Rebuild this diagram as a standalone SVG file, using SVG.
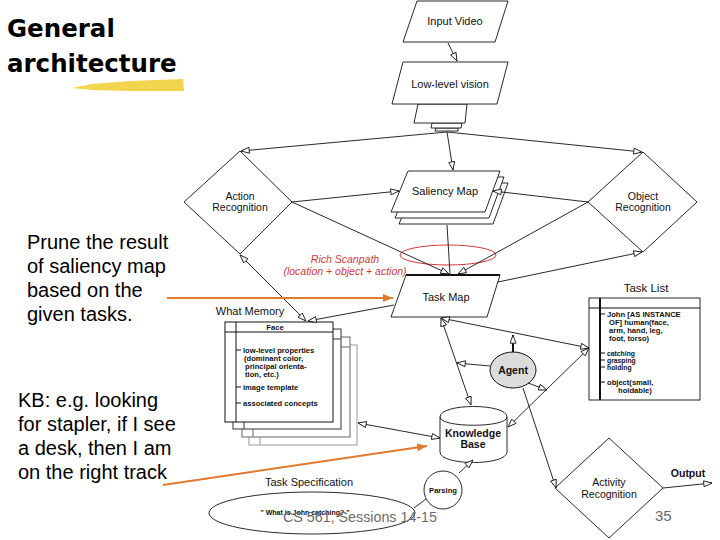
<svg xmlns="http://www.w3.org/2000/svg" width="720" height="540" viewBox="0 0 720 540">
<style>
.shape{fill:#fff;stroke:#111;stroke-width:0.9}
.con{fill:none;stroke:#111;stroke-width:0.9}
.lbl{font-family:"Liberation Sans",Arial,sans-serif;font-size:11px;fill:#111;text-anchor:middle}
.dl{font-family:"Liberation Sans",Arial,sans-serif;font-size:10.5px;fill:#111;text-anchor:middle}
.lblb{font-family:"Liberation Sans",Arial,sans-serif;font-size:10.5px;font-weight:bold;fill:#111;text-anchor:middle}
.sm{font-family:"Liberation Sans",Arial,sans-serif;font-size:7.6px;font-weight:bold;fill:#111}
.tl{font-family:"Liberation Sans",Arial,sans-serif;font-size:6.8px;font-weight:bold;fill:#111}
.note{font-family:"Liberation Sans",Arial,sans-serif;font-size:20px;fill:#000}
.title{font-family:"DejaVu Sans",Verdana,sans-serif;font-size:24.5px;font-weight:bold;fill:#000}
.red{font-family:"Liberation Sans",Arial,sans-serif;font-size:10.5px;font-style:italic;fill:#d03a3a;text-anchor:middle}
.foot{font-family:"Liberation Sans",Arial,sans-serif;font-size:15px;fill:#6a6a6a}
.orange{fill:none;stroke:#e07a2e;stroke-width:2}
</style>
<defs>
<marker id="ah" viewBox="0 0 10 8" refX="10" refY="4" markerWidth="9" markerHeight="7" orient="auto-start-reverse" markerUnits="userSpaceOnUse">
<path d="M0.6,0.6 L10,4 L0.6,7.4 Z" fill="#fff" stroke="#111" stroke-width="1"/>
</marker>
<marker id="oh" viewBox="0 0 10 8" refX="10" refY="4" markerWidth="10" markerHeight="8" orient="auto" markerUnits="userSpaceOnUse">
<path d="M0,0 L10,4 L0,8 Z" fill="#e07a2e"/>
</marker>
</defs>
<rect width="720" height="540" fill="#fff"/>

<!-- Title -->
<g id="title">
<polygon points="72,88 92,84 130,81 183,79 184,91 130,91 92,90" fill="#f2cf3a" opacity="0.9"/>
<text class="title" x="7" y="37">General</text>
<text class="title" x="7" y="72">architecture</text>
</g>

<!-- Notes -->
<g id="note-prune">
<text class="note" x="27" y="249">Prune the result</text>
<text class="note" x="27" y="273">of saliency map</text>
<text class="note" x="27" y="297">based on the</text>
<text class="note" x="27" y="321">given tasks.</text>
</g>
<g id="note-kb">
<text class="note" x="18" y="407">KB: e.g. looking</text>
<text class="note" x="18" y="431">for stapler, if I see</text>
<text class="note" x="18" y="455">a desk, then I am</text>
<text class="note" x="18" y="479">on the right track</text>
</g>

<!-- Nodes -->
<g id="input-video">
<polygon class="shape" points="417,1 508,1 495,42 403,42"/>
<text class="lbl" x="455" y="25">Input Video</text>
</g>
<g id="low-level-vision">
<polygon class="shape" points="436,128 458,128 458,131 435,131"/>
<polygon class="shape" points="432,123 462,123 461,128 431,128"/>
<polygon class="shape" points="418,104 467,104 465,123 414,123"/>
<polygon class="shape" points="403,62 508,62 497,104 392,104"/>
<text class="lbl" x="450" y="88">Low-level vision</text>
</g>
<g id="action-recognition">
<polygon class="shape" points="240,151 292,202 240,254 184,202"/>
<text class="dl" x="240" y="200">Action</text>
<text class="dl" x="240" y="211">Recognition</text>
</g>
<g id="object-recognition">
<polygon class="shape" points="643,152 697,202 643,252 588,202"/>
<text class="dl" x="643" y="200">Object</text>
<text class="dl" x="643" y="211">Recognition</text>
</g>
<g id="saliency-map">
<polygon class="shape" points="416,183 508,183 493,224 399,224"/>
<polygon class="shape" points="412,177 504,177 489,218 395,218"/>
<polygon class="shape" points="408,171 500,171 485,212 391,212"/>
<text class="lbl" x="445" y="195">Saliency Map</text>
</g>
<g id="rich-scanpath">
<ellipse cx="448" cy="255" rx="48" ry="10" fill="none" stroke="#d03a3a" stroke-width="1"/>
<text class="red" x="345" y="263">Rich Scanpath</text>
<text class="red" x="345" y="274.5">(location + object + action)</text>
</g>
<g id="task-map">
<polygon class="shape" points="406,275 500,275 487,317 391,317"/>
<line x1="406" y1="275" x2="500" y2="275" stroke="#111" stroke-width="2"/>
<text class="lbl" x="446" y="301">Task Map</text>
</g>
<g id="what-memory">
<text class="lbl" x="250" y="315">What Memory</text>
<g fill="#fff" stroke="#999" stroke-width="1">
<rect x="249" y="345" width="108" height="100"/>
<line x1="260" y1="345" x2="260" y2="445"/>
</g>
<g fill="#fff" stroke="#666" stroke-width="1">
<rect x="242" y="337" width="108" height="100"/>
<line x1="253" y1="337" x2="253" y2="437"/>
<line x1="242" y1="347" x2="350" y2="347"/>
</g>
<g fill="#fff" stroke="#333" stroke-width="1">
<rect x="233" y="329" width="108" height="100"/>
<line x1="244" y1="329" x2="244" y2="429"/>
<line x1="233" y1="339" x2="341" y2="339"/>
</g>
<g fill="#fff" stroke="#111" stroke-width="1">
<rect x="225" y="322" width="108" height="100"/>
<line x1="236" y1="322" x2="236" y2="422"/>
<line x1="225" y1="332" x2="333" y2="332"/>
<line x1="236" y1="350" x2="241" y2="350"/>
<line x1="236" y1="387" x2="241" y2="387"/>
<line x1="236" y1="403" x2="241" y2="403"/>
</g>
<text class="sm" x="275" y="330" text-anchor="middle">Face</text>
<text class="sm" x="243" y="353">low-level properties</text>
<text class="sm" x="244" y="361">(dominant color,</text>
<text class="sm" x="245" y="369">principal orienta-</text>
<text class="sm" x="245" y="377">tion, etc.)</text>
<text class="sm" x="243" y="390">image template</text>
<text class="sm" x="243" y="406">associated concepts</text>
</g>
<g id="task-list">
<text class="lbl" x="646" y="292" style="font-size:11.5px">Task List</text>
<rect class="shape" x="589" y="298" width="111" height="102" stroke-width="1"/>
<line x1="589" y1="308" x2="700" y2="308" stroke="#111" stroke-width="1"/>
<line x1="600" y1="298" x2="600" y2="400" stroke="#111" stroke-width="2"/>
<g stroke="#111" stroke-width="1">
<line x1="600" y1="314" x2="605" y2="314"/>
<line x1="600" y1="353" x2="605" y2="353"/>
<line x1="600" y1="360" x2="605" y2="360"/>
<line x1="600" y1="367" x2="605" y2="367"/>
<line x1="600" y1="382" x2="605" y2="382"/>
</g>
<text class="sm" x="607" y="317">John [AS INSTANCE</text>
<text class="sm" x="609" y="325">OF] human(face,</text>
<text class="sm" x="609" y="333">arm, hand, leg,</text>
<text class="sm" x="609" y="341">foot, torso)</text>
<text class="tl" x="607" y="356">catching</text>
<text class="tl" x="607" y="363">grasping</text>
<text class="tl" x="607" y="370">holding</text>
<text class="sm" x="607" y="385">object(small,</text>
<text class="sm" x="618" y="393">holdable)</text>
</g>
<g id="agent">
<ellipse cx="513" cy="370" rx="23" ry="18" fill="#dcdcdc" stroke="#111" stroke-width="1"/>
<text class="lblb" x="513" y="374">Agent</text>
</g>
<g id="knowledge-base">
<path class="shape" d="M440,417 C440,403 507,403 507,417 L507,452 C507,466 440,466 440,452 Z"/>
<path class="con" d="M440,417 C440,428 507,428 507,417"/>
<text class="lblb" x="473" y="437">Knowledge</text>
<text class="lblb" x="473" y="448">Base</text>
</g>
<g id="task-specification">
<text class="lbl" x="309" y="486">Task Specification</text>
<ellipse class="shape" cx="312" cy="513" rx="103" ry="21"/>
<text class="sm" x="305" y="515" text-anchor="middle" style="font-size:7px">" What is John catching? "</text>
</g>
<g id="parsing">
<circle class="shape" cx="443" cy="490" r="19"/>
<text class="sm" x="443" y="493" text-anchor="middle">Parsing</text>
</g>
<g id="activity-recognition">
<polygon class="shape" points="609,438 663,488 609,538 555,488"/>
<text class="dl" x="609" y="486">Activity</text>
<text class="dl" x="609" y="497.5">Recognition</text>
</g>
<g id="output">
<text class="lbl" x="688" y="477" style="font-weight:bold;font-size:10.5px">Output</text>
</g>

<!-- Connectors -->
<g id="connectors">
<line class="con" x1="448" y1="43" x2="457" y2="61" marker-end="url(#ah)"/>
<line class="con" x1="447" y1="132" x2="241" y2="151" marker-end="url(#ah)"/>
<line class="con" x1="447" y1="132" x2="453" y2="170" marker-end="url(#ah)"/>
<line class="con" x1="447" y1="132" x2="642" y2="152" marker-end="url(#ah)"/>
<line class="con" x1="292" y1="202" x2="399" y2="191" marker-end="url(#ah)"/>
<line class="con" x1="588" y1="202" x2="493" y2="191" marker-end="url(#ah)"/>
<line class="con" x1="292" y1="202" x2="449" y2="274" marker-end="url(#ah)"/>
<line class="con" x1="447" y1="225" x2="450" y2="274"/>
<line class="con" x1="588" y1="202" x2="458" y2="274" marker-end="url(#ah)"/>
<line class="con" x1="498" y1="282" x2="642" y2="252" marker-end="url(#ah)"/>
<line class="con" x1="240" y1="255" x2="306" y2="321" marker-start="url(#ah)" marker-end="url(#ah)"/>
<line class="con" x1="394" y1="305" x2="308" y2="321" marker-end="url(#ah)"/>
<line class="con" x1="441" y1="318" x2="589" y2="348" marker-start="url(#ah)" marker-end="url(#ah)"/>
<line class="con" x1="441" y1="318" x2="471" y2="405" marker-start="url(#ah)" marker-end="url(#ah)"/>
<line x1="513" y1="352" x2="513" y2="335" stroke="#111" stroke-width="2" marker-end="url(#ah)"/>
<line class="con" x1="490" y1="366" x2="457" y2="363" marker-end="url(#ah)"/>
<line class="con" x1="528" y1="383" x2="547" y2="390" marker-end="url(#ah)"/>
<line class="con" x1="508" y1="427" x2="589" y2="348" marker-start="url(#ah)" marker-end="url(#ah)"/>
<line class="con" x1="523" y1="388" x2="556" y2="488" marker-end="url(#ah)"/>
<line class="con" x1="663" y1="488" x2="712" y2="483" marker-end="url(#ah)"/>
<line class="con" x1="358" y1="423" x2="440" y2="438" marker-start="url(#ah)" marker-end="url(#ah)"/>
<line class="con" x1="459" y1="473" x2="473" y2="460" marker-end="url(#ah)"/>
<line class="con" x1="414" y1="508" x2="426" y2="499"/>
<line class="orange" x1="167" y1="298" x2="393" y2="298" marker-end="url(#oh)"/>
<line class="orange" x1="163" y1="485" x2="427" y2="446" marker-end="url(#oh)"/>
</g>

<!-- Footer -->
<text class="foot" x="283" y="522" textLength="154" lengthAdjust="spacingAndGlyphs">CS 561,  Sessions 14-15</text>
<text class="foot" x="655" y="521">35</text>
</svg>
